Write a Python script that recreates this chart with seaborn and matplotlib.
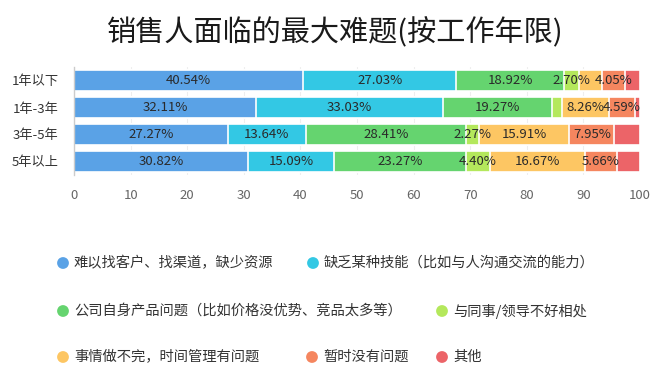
import pandas as pd
import matplotlib.pyplot as plt
import seaborn as sns

# --- data ---
categories = ['1年以下', '1年-3年', '3年-5年', '5年以上']
series_names = [
    '难以找客户、找渠道，缺少资源',
    '缺乏某种技能（比如与人沟通交流的能力）',
    '公司自身产品问题（比如价格没优势、竞品太多等）',
    '与同事/领导不好相处',
    '事情做不完，时间管理有问题',
    '暂时没有问题',
    '其他',
]
s1 = [40.54, 32.11, 27.27, 30.82]
s2 = [27.03, 33.03, 13.64, 15.09]
s3 = [18.92, 19.27, 28.41, 23.27]
s4 = [2.70, 1.83, 2.27, 4.40]
s5 = [4.05, 8.26, 15.91, 16.67]
s6 = [4.05, 4.59, 7.95, 5.66]
s7 = [2.70, 0.92, 4.55, 4.09]
series_values = [s1, s2, s3, s4, s5, s6, s7]
x_ticks = [0, 10, 20, 30, 40, 50, 60, 70, 80, 90, 100]

# segments whose value label is not shown in the reference: (series, row)
hidden_labels = {(4, 0), (6, 0), (3, 1), (6, 1), (6, 2), (6, 3)}

colors = ['#5aa2e6', '#33c8e4', '#65d46f', '#b4e85c', '#fdc663', '#f5865f', '#ec6468']

sns.set_style('white')
plt.rcParams['font.family'] = ['Noto Sans CJK SC', 'DejaVu Sans']

fig = plt.figure(figsize=(6.5, 3.9), dpi=100)
ax = fig.add_axes([74 / 650, 1 - 175 / 390, 566 / 650, 108 / 390])

# cumulative totals, drawn from the last series backwards so earlier ones sit on top
df = pd.DataFrame({name: vals for name, vals in zip(series_names, series_values)}, index=categories)
cum = df.cumsum(axis=1)

for i in range(len(series_names) - 1, -1, -1):
    d = pd.DataFrame({'cat': categories, 'val': cum.iloc[:, i].values})
    sns.barplot(data=d, x='val', y='cat', orient='h', color=colors[i], width=0.78,
                edgecolor='white', linewidth=1.2, saturation=1, ax=ax, zorder=2)

# value labels
for i, name in enumerate(series_names):
    for r, cat in enumerate(categories):
        if (i, r) in hidden_labels:
            continue
        v = df.iloc[r, i]
        center = cum.iloc[r, i] - v / 2
        ax.text(center, r, f'{v:.2f}%', ha='center', va='center', fontsize=9.5, color='#2a2a2a', zorder=3)

ax.set_xlim(0, 100)
ax.set_ylim(3.5, -0.5)
ax.set_xticks(x_ticks)
ax.set_xticklabels([str(t) for t in x_ticks], fontsize=9.5, color='#666666')
ax.tick_params(axis='x', length=0, pad=10)
ax.tick_params(axis='y', which='major', length=0, pad=11, labelsize=9.5, labelcolor='#333333')
ax.set_yticks([-0.5, 0.5, 1.5, 2.5, 3.5], minor=True)
ax.tick_params(axis='y', which='minor', length=7, color='#cccccc', width=1)
ax.set_xlabel('')
ax.set_ylabel('')
ax.xaxis.grid(True, color='#eeeeee', linewidth=0.8, zorder=0)
ax.set_axisbelow(True)
for side in ['top', 'right', 'bottom']:
    ax.spines[side].set_visible(False)
ax.spines['left'].set_color('#cccccc')
ax.spines['left'].set_linewidth(1)

fig.text(335 / 650, 1 - 33 / 390, '销售人面临的最大难题(按工作年限)', ha='center', va='center',
         fontsize=21, color='#1a1a1a', fontweight='medium')

# legend laid out in pixel coordinates like the reference
leg = fig.add_axes([0, 0, 1, 1])
leg.set_xlim(0, 650)
leg.set_ylim(390, 0)
leg.axis('off')
leg_pos = [(63, 263), (313, 263), (63, 311), (442, 311), (63, 357), (312, 357), (442, 357)]
for (x, y), name, c in zip(leg_pos, series_names, colors):
    leg.scatter([x], [y], s=72, color=c, edgecolor='none')
    leg.text(x + 11, y, name, ha='left', va='center', fontsize=10.3, color='#333333')

fig.savefig('out.png', dpi=100)
